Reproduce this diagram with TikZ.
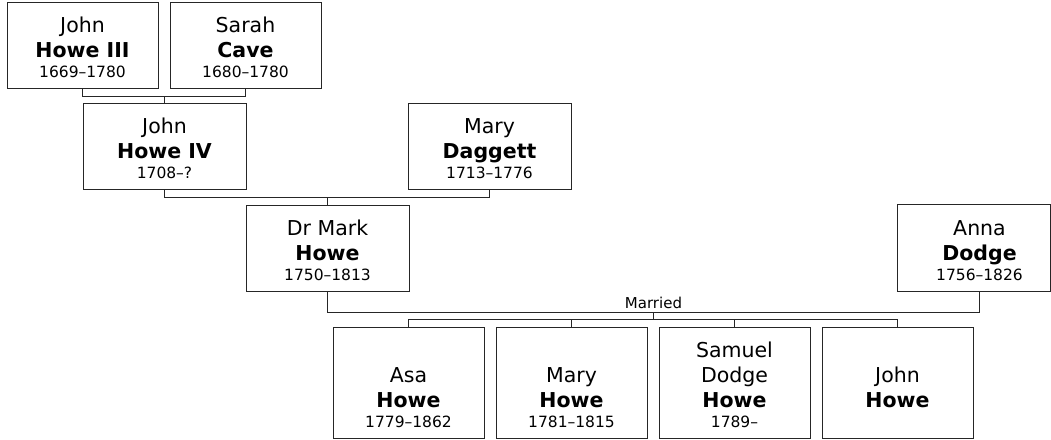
\documentclass[tikz,border=0pt]{standalone}
\usepackage{fontspec}
\setmainfont{DejaVu Sans}
\usepackage{tikz}
\usetikzlibrary{positioning}

\newcommand{\namefont}{\fontsize{20.5}{25}\selectfont}
\newcommand{\yrs}{\fontsize{15.5}{20}\selectfont}
% given names, surname, years
\newcommand{\who}[3]{\rule{0pt}{20pt}#1\\\textbf{#2}\\[-5pt]\yrs #3}

\begin{document}
\begin{tikzpicture}[x=1pt, y=-1pt,
        person/.style = {draw=black!85, line width=1pt, minimum width=151pt, minimum height=86pt,
                         align=center, font=\namefont, inner sep=2pt},
        wide/.style = {person, minimum width=163pt},
        child/.style = {person, minimum height=111pt},
        link/.style = {draw=black!85, line width=1pt}]
            \useasboundingbox (0,0) rectangle (1051,439);

            % grandparents
            \node[person] (j3) at (82.5,45.5) {\who{John}{Howe III}{1669--1780}};
            \node[person] (sc) at (245.5,45.5) {\who{Sarah}{Cave}{1680--1780}};

            % parents
            \node[wide] (j4) at (164.5,146) {\who{John}{Howe IV}{1708--?}};
            \node[wide] (md) at (489.5,146) {\who{Mary}{Daggett}{1713--1776}};

            % couple
            \node[wide] (mh) at (327.5,248) {\who{Dr Mark}{Howe}{1750--1813}};
            \node[wide, draw=none] (ad) at (979.5,248) {\who{Anna}{Dodge}{1756--1826}};
            \coordinate (edge) at (1050,0);
            \draw[link] (ad.north west) rectangle (ad.south east -| edge);

            % children
            \node[child] (c1) at (408.5,382.5) {\who{\\Asa}{Howe}{1779--1862}};
            \node[child] (c2) at (571.5,382.5) {\who{\\Mary}{Howe}{1781--1815}};
            \node[child] (c3) at (734.5,382.5) {\who{Samuel\\Dodge}{Howe}{1789--}};
            \node[child] (c4) at (897.5,382.5) {\who{\\John}{Howe}{\vphantom{1}}};

            % junctions
            \coordinate (p1) at (164.5,96.5);
            \coordinate (p2) at (327.5,197.5);
            \coordinate (p3) at (653.5,312.5);
            \coordinate (p4) at (653.5,319.5);

            \path[link] (j3.south) |- (p1) -| (sc.south);
            \path[link] (p1) -- (p1 |- j4.north);
            \path[link] (j4.south) |- (p2) -| (md.south);
            \path[link] (p2) -- (p2 |- mh.north);
            \path[link] (mh.south) |- (p3) -| (ad.south);
            \node[font=\fontsize{15}{18}\selectfont, above, inner sep=4pt] (wed) at (p3) {Married};
            \path[link] (p3) -- (p4);
            \path[link] (c1.north) |- (p4) -| (c4.north);
            \path[link] (p4) -| (c2.north);
            \path[link] (p4) -| (c3.north);
        \end{tikzpicture}
\end{document}
